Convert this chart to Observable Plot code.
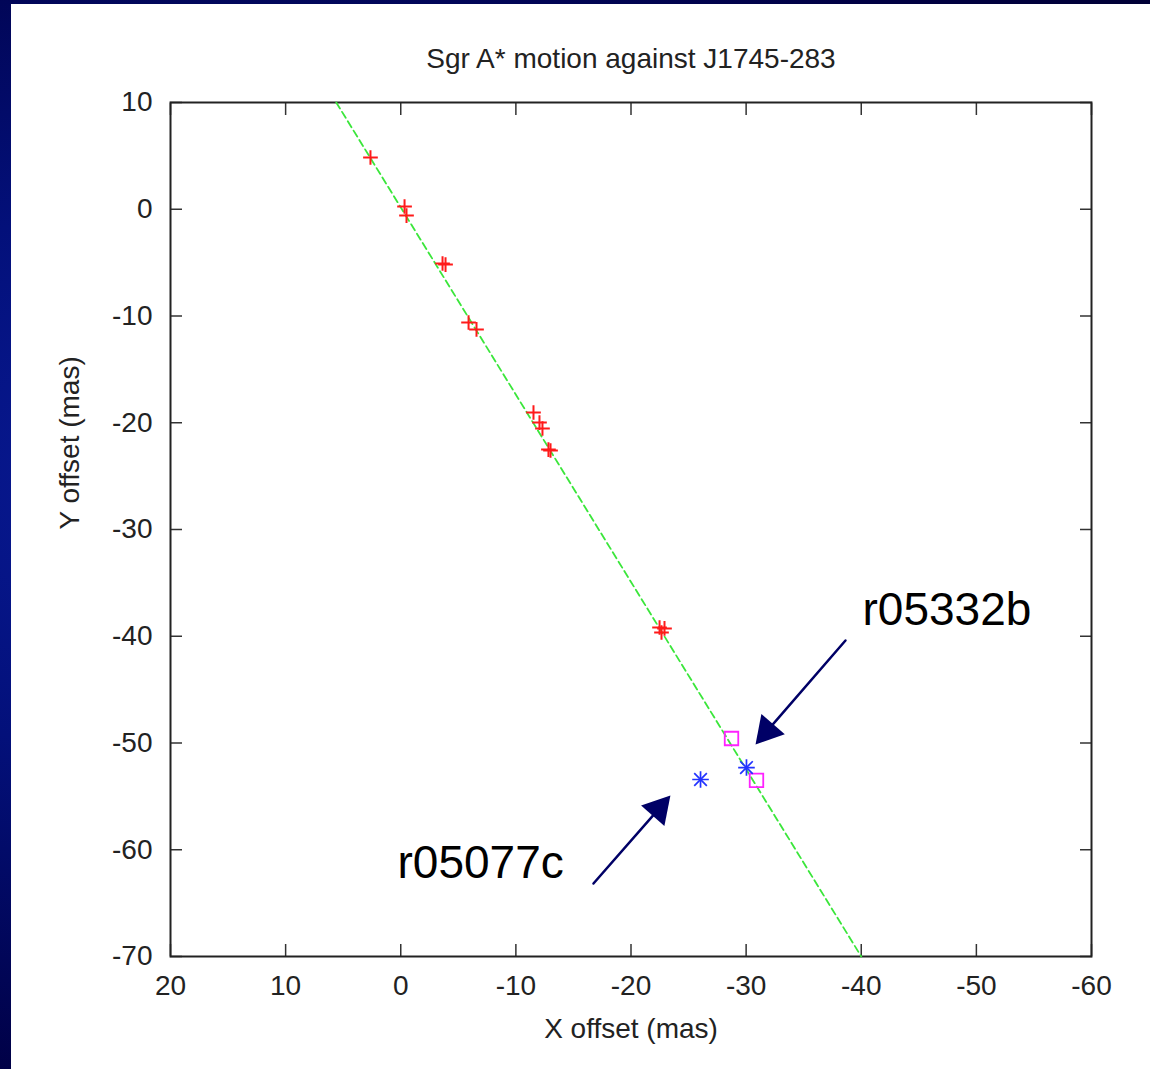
<!DOCTYPE html>
<html><head><meta charset="utf-8">
<script src="https://cdn.jsdelivr.net/npm/d3@7"></script>
<script src="https://cdn.jsdelivr.net/npm/@observablehq/plot@0.6"></script>
<style>
html,body{margin:0;padding:0;}
body{width:1150px;height:1069px;overflow:hidden;position:relative;
background:radial-gradient(ellipse at 20% 45%, #0a1c9a 0%, #03107a 35%, #000044 75%, #00002e 100%);}
#panel{position:absolute;left:11px;top:4px;width:1139px;height:1065px;background:#fff;}
</style></head><body><div id="panel"></div>
<script>
const titleText = "Sgr A* motion against J1745-283";
const xLabel = "X offset (mas)";
const yLabel = "Y offset (mas)";
const xTicks = [20, 10, 0, -10, -20, -30, -40, -50, -60];
const yTicks = [10, 0, -10, -20, -30, -40, -50, -60, -70];

// Sgr A* positions (red plus)
const redX = [2.63, -0.33, -0.50, -3.63, -3.89, -5.89, -6.58, -11.53, -12.05, -12.31, -12.83, -13.01, -22.48, -22.91, -22.65];
const redY = [4.85, 0.26, -0.59, -5.08, -5.18, -10.61, -11.26, -19.04, -19.98, -20.54, -22.51, -22.60, -39.18, -39.27, -39.65];
// magenta squares
const sqX = [-28.73, -30.90];
const sqY = [-49.58, -53.51];
// blue stars
const starX = [-30.03, -26.04];
const starY = [-52.30, -53.42];
// fitted motion line (green dashed)
const fitX = [5.6, -40.0];
const fitY = [10, -70];
// annotations
const noteText = ["r05332b", "r05077c"];
const noteX = [-40.11, 0.28];
const noteY = [-38.99, -62.6];
const arrowX1 = [-38.63, -16.74];
const arrowY1 = [-40.40, -63.16];
const arrowX2 = [-30.81, -23.43];
const arrowY2 = [-50.14, -54.92];

const W = 1139, H = 1065, ML = 159, MR = 59, MT = 98, MB = 113;
const xDomain = [20, -60], yDomain = [-70, 10];
const kx = (W - ML - MR) / (xDomain[0] - xDomain[1]);
const ky = (H - MT - MB) / (yDomain[1] - yDomain[0]);
const arrowColor = "#000066";
const font = "'Liberation Sans', Arial, Helvetica, sans-serif";

const idx = a => a.map((_, i) => i);

const heads = noteText.map((_, i) => {
  const px = -(arrowX2[i] - arrowX1[i]) * kx, py = -(arrowY2[i] - arrowY1[i]) * ky;
  const len = Math.hypot(px, py), ux = px / len, uy = py / len;
  const rot = Math.atan2(ux, -uy) * 180 / Math.PI;
  return Plot.dot([i], {x: j => arrowX2[j], y: j => arrowY2[j], symbol: "triangle", r: 11.5,
    fill: arrowColor, stroke: "none", rotate: rot, dx: -ux * 18, dy: -uy * 18});
});

const chart = Plot.plot({
  width: W, height: H,
  marginLeft: ML, marginRight: MR, marginTop: MT, marginBottom: MB,
  x: {domain: xDomain},
  y: {domain: yDomain},
  style: {fontFamily: font, background: "white", color: "#222", overflow: "visible"},
  marks: [
    // tick labels
    Plot.axisX({ticks: xTicks, anchor: "bottom", tickSize: 0, tickPadding: 19, tickFormat: d => String(d), fontSize: 28, label: null, fill: "#222"}),
    Plot.axisY({ticks: yTicks, anchor: "left", tickSize: 0, tickPadding: 18, tickFormat: d => String(d), fontSize: 28, label: null, fill: "#222"}),
    // inward ticks on all four sides
    Plot.axisX({ticks: xTicks, anchor: "bottom", tickSize: 12, dy: -12, tickFormat: () => "", fill: "none", label: null, stroke: "#333", strokeWidth: 1.5}),
    Plot.axisX({ticks: xTicks, anchor: "top", tickSize: 12, dy: 12, tickFormat: () => "", fill: "none", label: null, stroke: "#333", strokeWidth: 1.5}),
    Plot.axisY({ticks: yTicks, anchor: "left", tickSize: 12, dx: 12, tickFormat: () => "", fill: "none", label: null, stroke: "#333", strokeWidth: 1.5}),
    Plot.axisY({ticks: yTicks, anchor: "right", tickSize: 12, dx: -12, tickFormat: () => "", fill: "none", label: null, stroke: "#333", strokeWidth: 1.5}),
    Plot.frame({stroke: "#222", strokeWidth: 2}),
    // fitted line
    Plot.line(idx(fitX), {x: i => fitX[i], y: i => fitY[i], stroke: "#3be63b", strokeWidth: 1.8, strokeDasharray: "7,4"}),
    // data points
    Plot.dot(idx(redX), {x: i => redX[i], y: i => redY[i], symbol: "plus", r: 4.8, stroke: "#ff1a1a", strokeWidth: 2}),
    Plot.dot(idx(sqX), {x: i => sqX[i], y: i => sqY[i], symbol: "square2", r: 8.6, stroke: "#ff22ff", strokeWidth: 1.8}),
    Plot.dot(idx(starX), {x: i => starX[i], y: i => starY[i], symbol: "plus", r: 5.4, stroke: "#2233ff", strokeWidth: 1.7}),
    Plot.dot(idx(starX), {x: i => starX[i], y: i => starY[i], symbol: "times", r: 5.8, stroke: "#2233ff", strokeWidth: 1.7}),
    // annotation arrows
    Plot.arrow(idx(noteText), {x1: i => arrowX1[i], y1: i => arrowY1[i], x2: i => arrowX2[i], y2: i => arrowY2[i],
      stroke: arrowColor, strokeWidth: 2.5, headLength: 0, insetEnd: 14}),
    ...heads,
    Plot.text(idx(noteText), {x: i => noteX[i], y: i => noteY[i], text: i => noteText[i], textAnchor: "start", lineAnchor: "bottom", fontSize: 46, fill: "#000"}),
    // title and axis labels
    Plot.text([titleText], {text: d => d, frameAnchor: "top", dy: -35, lineAnchor: "bottom", fontSize: 28, fill: "#222"}),
    Plot.text([xLabel], {text: d => d, frameAnchor: "bottom", dy: 81, lineAnchor: "bottom", fontSize: 28, fill: "#222"}),
    Plot.text([yLabel], {text: d => d, frameAnchor: "left", dx: -92, rotate: -90, lineAnchor: "bottom", fontSize: 28, fill: "#222"})
  ]
});
document.getElementById("panel").appendChild(chart);
</script>
</body></html>
